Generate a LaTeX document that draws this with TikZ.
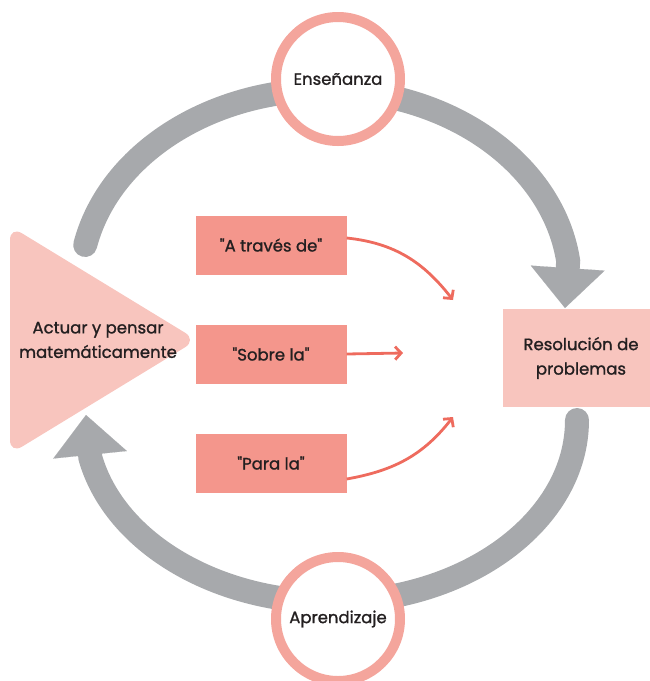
\documentclass[tikz,border=0pt]{standalone}
\usepackage{fontspec}
\setmainfont{Poppins}[Ligatures=TeXOff, UprightFeatures={FakeBold=1.2}]
\usetikzlibrary{arrows.meta}
\definecolor{ring}{HTML}{F4A59C}
\definecolor{boxc}{HTML}{F4968C}
\definecolor{light}{HTML}{F8C5BE}
\definecolor{band}{HTML}{A7A9AC}
\definecolor{redarr}{HTML}{EE6B5E}
\definecolor{ink}{HTML}{231F20}
\pgfdeclarelayer{bg}
\pgfsetlayers{bg,main}
\begin{document}
\begin{tikzpicture}[x=1pt,y=-1pt,
  every node/.style={text=ink, font=\fontsize{16.5}{24.5}\selectfont, align=center},
  ringnode/.style={circle, draw=ring, line width=10pt, fill=white, minimum size=124pt, inner sep=0pt},
  labelbox/.style={rectangle, fill=boxc, minimum width=151pt, minimum height=59pt, inner sep=0pt},
  bandline/.style={draw=band, line width=24pt, line cap=round, -{Triangle[length=40pt,width=74pt,line width=0.1pt]}},
  redline/.style={draw=redarr, line width=2.8pt, -{Straight Barb[length=6pt,width=13pt]}}
]
\useasboundingbox (0,0) rectangle (649,681);
% ring nodes
\node[ringnode] (ens) at (338,79) {Enseñanza};
\node[ringnode] (apr) at (338,619) {Aprendizaje};
% triangle
\fill[light, rounded corners=14pt] (10,226) -- (197,340) -- (10,454) -- cycle;
\node (act) at (98,340) {Actuar y pensar\\matemáticamente};
% boxes
\node[labelbox] (atr) at (271,245) {"A través de"};
\node[labelbox] (sob) at (271,354) {"Sobre la"};
\node[labelbox] (par) at (271,463) {"Para la"};
\node[rectangle, fill=light, minimum width=156pt, minimum height=98pt] (res) at (581,358) {Resolución de\\problemas};
% red arrows
\coordinate (t1) at (453,300);
\coordinate (t2) at (403,353);
\coordinate (t3) at (453,417);
\draw[redline] ([yshift=7pt]atr.east) to[out=-6, in=128] (t1);
\draw[redline] (sob.east) -- (t2);
\draw[redline] ([yshift=-16pt]par.east) to[out=10, in=-128] (t3);
% gray cycle
\begin{pgfonlayer}{bg}
\coordinate (t0) at (85.2,245);
\coordinate (ttip) at (565,308);
\draw[bandline] (t0) arc[start angle=191.8, end angle=353, x radius=245, y radius=195] -- (ttip);
\coordinate (b0) at (577,420);
\coordinate (btip) at (86,415);
\draw[bandline] (b0) arc[start angle=0, end angle=168, x radius=246, y radius=182] -- (btip);
\end{pgfonlayer}
\end{tikzpicture}
\end{document}
